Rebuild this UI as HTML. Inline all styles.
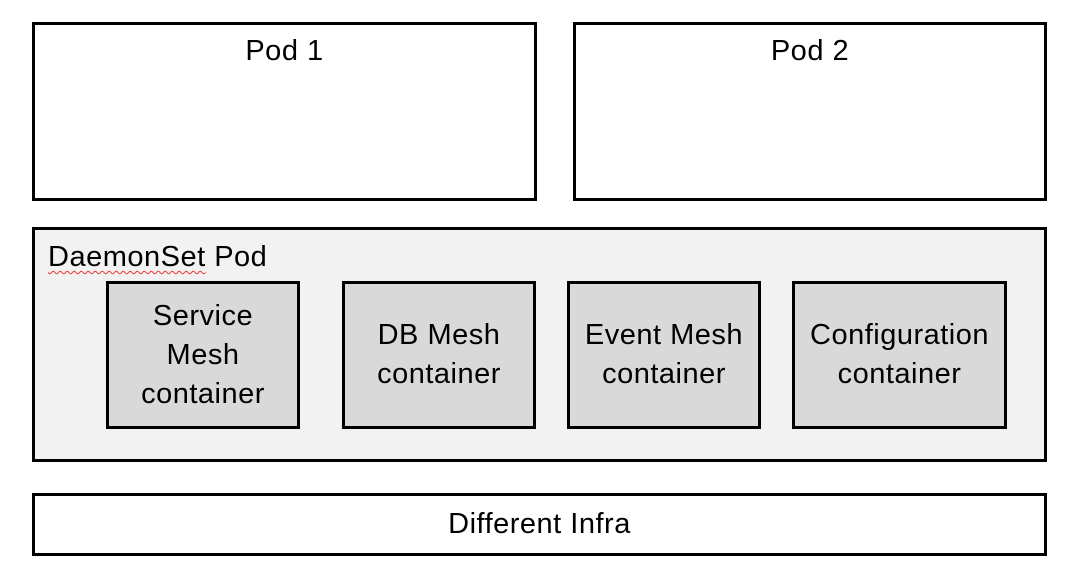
<!DOCTYPE html>
<html><head><style>
body{margin:0;width:1080px;height:580px;background:#fff;font-family:"Liberation Sans",sans-serif;position:relative;overflow:hidden}
.b{position:absolute;box-sizing:border-box;border:3px solid #000;color:#000}
.t{font-size:29px;text-align:center;line-height:39px;letter-spacing:0.5px}
.c{background:#d9d9d9;display:flex;align-items:center;justify-content:center;text-align:center;font-size:29px;line-height:39px;letter-spacing:0.5px}
</style></head><body>
<div class="b t" style="left:32px;top:22px;width:505px;height:179px;padding-top:7px">Pod 1</div>
<div class="b t" style="left:573px;top:22px;width:474px;height:179px;padding-top:7px">Pod 2</div>
<div class="b" style="left:32px;top:227px;width:1015px;height:235px;background:#f2f2f2">
<div style="position:absolute;left:13px;top:12px;font-size:29px;line-height:30px;letter-spacing:0.5px"><span style="text-decoration:underline wavy #e33;text-decoration-thickness:1px;text-underline-offset:4px">DaemonSet</span> Pod</div>
</div>
<div class="b c" style="left:106px;top:281px;width:194px;height:148px">Service<br>Mesh<br>container</div>
<div class="b c" style="left:342px;top:281px;width:194px;height:148px">DB Mesh<br>container</div>
<div class="b c" style="left:567px;top:281px;width:194px;height:148px">Event Mesh<br>container</div>
<div class="b c" style="left:792px;top:281px;width:215px;height:148px">Configuration<br>container</div>
<div class="b c" style="left:32px;top:493px;width:1015px;height:63px;background:#fff">Different Infra</div>
</body></html>
